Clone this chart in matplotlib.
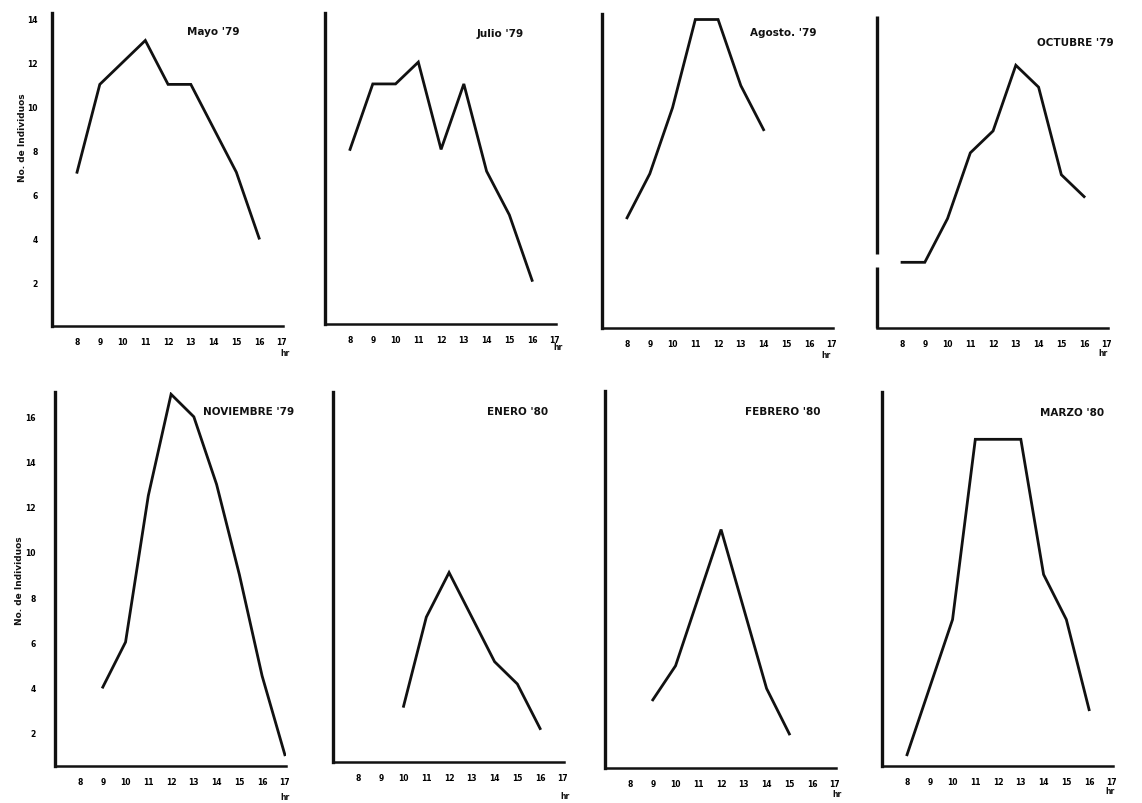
import matplotlib
matplotlib.use("Agg")
import matplotlib.pyplot as plt

W, H = 1142, 804

# ---------------- data ----------------
hours = [8, 9, 10, 11, 12, 13, 14, 15, 16, 17]
hour_labels = ['8', '9', '10', '11', '12', '13', '14', '15', '16', '17']

top_yticks = [2, 4, 6, 8, 10, 12, 14]
bottom_yticks = [2, 4, 6, 8, 10, 12, 14, 16]

mayo_h = [8, 9, 10, 11, 12, 13, 14, 15, 16]
mayo_v = [7, 11, 12, 13, 11, 11, 9, 7, 4]

julio_h = [8, 9, 10, 11, 12, 13, 14, 15, 16]
julio_v = [8, 11, 11, 12, 8, 11, 7, 5, 2]

agosto_h = [8, 9, 10, 11, 12, 13, 14]
agosto_v = [5, 7, 10, 14, 14, 11, 9]

octubre_h = [8, 9, 10, 11, 12, 13, 14, 15, 16]
octubre_v = [3, 3, 5, 8, 9, 12, 11, 7, 6]

noviembre_h = [9, 10, 11, 12, 13, 14, 15, 16, 17]
noviembre_v = [4, 6, 12.5, 17, 16, 13, 9, 4.5, 1]

enero_h = [10, 11, 12, 13, 14, 15, 16]
enero_v = [3, 7, 9, 7, 5, 4, 2]

febrero_h = [9, 10, 11, 12, 13, 14, 15]
febrero_v = [3.5, 5, 8, 11, 7.5, 4, 2]

marzo_h = [8, 9, 10, 11, 12, 13, 14, 15, 16]
marzo_v = [1, 4, 7, 15, 15, 15, 9, 7, 3]

titles = ["Mayo '79", "Julio '79", "Agosto. '79", "OCTUBRE '79",
          "NOVIEMBRE '79", "ENERO '80", "FEBRERO '80", "MARZO '80"]
ylabel = "No. de Individuos"

# ---------------- layout (pixels) ----------------
# (left, bottom, top, title_x, title_y, hr_x, hr_y)
geo = [
    (52, 327, 14, 187, 32, 285, 353),
    (325, 325, 14, 477, 34, 558, 348),
    (602, 329, 15, 750, 33, 826, 355),
    (877, 329, 17, 1037, 43, 1103, 354),
    (55, 767, 393, 203, 412, 285, 798),
    (333, 763, 393, 487, 412, 565, 797),
    (605, 769, 392, 745, 412, 837, 795),
    (882, 767, 393, 1040, 413, 1110, 792),
]
series = [(mayo_h, mayo_v), (julio_h, julio_v), (agosto_h, agosto_v),
          (octubre_h, octubre_v), (noviembre_h, noviembre_v),
          (enero_h, enero_v), (febrero_h, febrero_v), (marzo_h, marzo_v)]

XW = 231  # axes width in px
XLIM = (6.9, 17.05)

fig = plt.figure(figsize=(W / 100, H / 100), dpi=100)
fig.patch.set_facecolor('white')

for i, ((hx, hv), (l, b, t, tx, ty, hrx, hry)) in enumerate(zip(series, geo)):
    ax = fig.add_axes([l / W, 1 - b / H, XW / W, (b - t) / H])
    ax.plot(hx, hv, color='#111111', lw=2.0, solid_joinstyle='miter')
    ax.set_xlim(*XLIM)
    if i < 4:
        ax.set_ylim(0, 14.25)
        yt = top_yticks
    else:
        ax.set_ylim(0.5, 17.1)
        yt = bottom_yticks
    for s in ['top', 'right']:
        ax.spines[s].set_visible(False)
    ax.spines['left'].set_linewidth(2.4)
    ax.spines['bottom'].set_linewidth(1.8)
    ax.spines['left'].set_color('#111111')
    ax.spines['bottom'].set_color('#111111')
    if i == 3:
        # broken vertical axis in Octubre
        ax.spines['left'].set_visible(False)
        frac1 = (b - 268) / (b - t)
        frac2 = (b - 255) / (b - t)
        ax.plot([0, 0], [0, frac1], transform=ax.transAxes, color='#111111',
                lw=2.4, clip_on=False, solid_capstyle='butt')
        ax.plot([0, 0], [frac2, 1], transform=ax.transAxes, color='#111111',
                lw=2.4, clip_on=False, solid_capstyle='butt')
    ax.set_xticks(hours)
    ax.set_xticklabels(hour_labels, fontsize=5.5, fontweight='bold')
    ax.tick_params(axis='x', length=0, pad=8)
    if i in (0, 4):
        ax.set_yticks(yt)
        ax.set_yticklabels([str(v) for v in yt], fontsize=5.5, fontweight='bold')
        ax.tick_params(axis='y', length=0, pad=10 if i == 0 else 14)
    else:
        ax.set_yticks([])
    ax.set_facecolor('none')
    fig.text(tx / W, 1 - ty / H, titles[i], fontsize=7.5, fontweight='bold',
             ha='left', va='center', color='#111111')
    fig.text(hrx / W, 1 - hry / H, 'hr', fontsize=5.5, fontweight='bold',
             ha='center', va='center', color='#111111')

fig.text(23 / W, 1 - 138 / H, ylabel, rotation=90, fontsize=6.5,
         fontweight='bold', ha='center', va='center', color='#111111')
fig.text(20 / W, 1 - 581 / H, ylabel, rotation=90, fontsize=6.5,
         fontweight='bold', ha='center', va='center', color='#111111')

fig.savefig('out.png', dpi=100, facecolor='white')
